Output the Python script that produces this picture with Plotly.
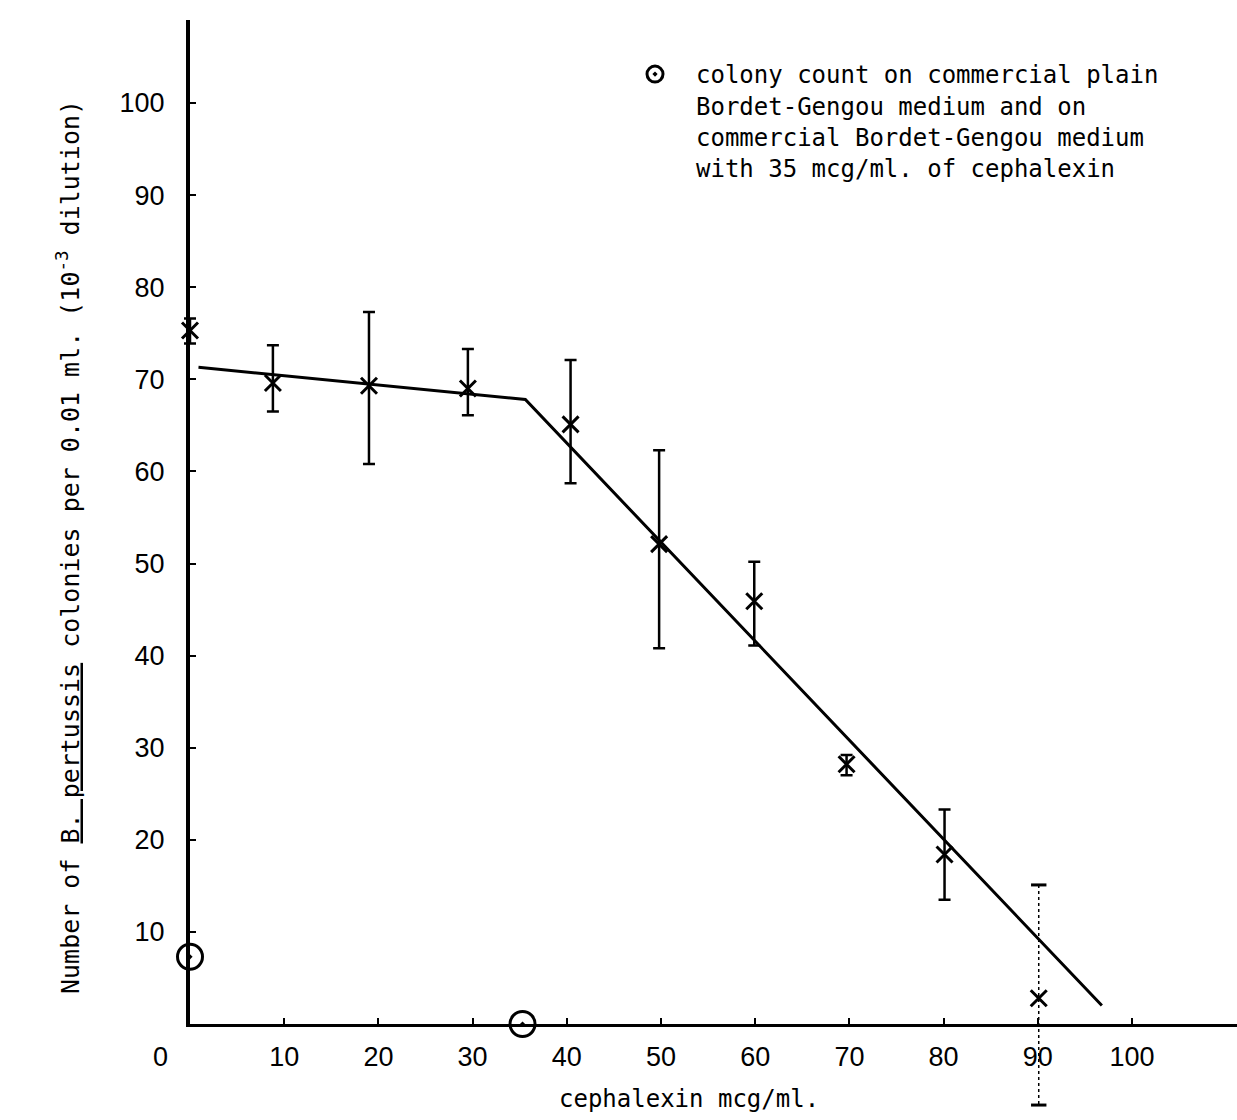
import plotly.graph_objects as go

# ---------------- data ----------------
# cephalexin concentration (mcg/ml) and mean colony counts with range
conc = [0, 8.8, 19.0, 29.5, 40.4, 49.8, 59.9, 69.7, 80.1, 90.1]
count = [75.3, 69.6, 69.3, 69.0, 65.1, 52.1, 45.9, 28.2, 18.4, 2.8]
upper = [76.6, 73.7, 77.3, 73.3, 72.1, 62.3, 50.2, 29.2, 23.3, 15.1]
lower = [73.9, 66.5, 60.8, 66.1, 58.7, 40.8, 41.1, 27.0, 13.5, -8.8]
dotted_bar = [False, False, False, False, False, False, False, False, False, True]

# fitted (hand-drawn) line
fit_x = [0.9, 35.6, 96.8]
fit_y = [71.3, 67.8, 2.0]

# colony counts on commercial media (open circles)
ref_x = [0, 35.3]
ref_y = [7.3, 0]
ref_name = ("colony count on commercial plain<br>Bordet-Gengou medium and on<br>"
            "commercial Bordet-Gengou medium<br>with 35 mcg/ml. of cephalexin")

x_ticks = [10, 20, 30, 40, 50, 60, 70, 80, 90, 100]
y_ticks = [10, 20, 30, 40, 50, 60, 70, 80, 90, 100]
origin_label = "0"

x_title = "cephalexin mcg/ml."
y_title = ("Number of <u>B. pertussis</u> colonies per 0.01 ml. "
           "(10<sup>-3</sup> dilution)")

# ---------------- layout geometry ----------------
W, H = 1237, 1120
OX, OY = 190, 1024          # pixel position of the origin
PPX, PPY = 9.42, 9.21       # pixels per data unit
Y_TOP_PX = 20

x_lo, x_hi = -OX / PPX, (W - OX) / PPX
y_lo, y_hi = -(H - OY) / PPY, OY / PPY

mono = "DejaVu Sans Mono"
sans = "Liberation Sans"

fig = go.Figure()

solid = [i for i, d in enumerate(dotted_bar) if not d]
dots = [i for i, d in enumerate(dotted_bar) if d]

# main points with solid range bars
fig.add_trace(go.Scatter(
    x=[conc[i] for i in solid], y=[count[i] for i in solid],
    mode="markers", showlegend=False, xaxis="x", yaxis="y", cliponaxis=False,
    marker=dict(symbol="x-thin-open", size=16, color="black",
                line=dict(width=3, color="black")),
    error_y=dict(type="data", symmetric=False,
                 array=[upper[i] - count[i] for i in solid],
                 arrayminus=[count[i] - lower[i] for i in solid],
                 color="black", thickness=2.5, width=6),
))

# point(s) with dotted range bar
for i in dots:
    fig.add_trace(go.Scatter(
        x=[conc[i], conc[i]], y=[upper[i], lower[i]],
        mode="lines+markers", showlegend=False, xaxis="x", yaxis="y",
        line=dict(color="black", width=1.5, dash="dot"),
        marker=dict(symbol="line-ew-open", size=11,
                    line=dict(width=3, color="black")),
    ))
    fig.add_trace(go.Scatter(
        x=[conc[i]], y=[count[i]], mode="markers", showlegend=False,
        xaxis="x", yaxis="y",
        marker=dict(symbol="x-thin-open", size=16, color="black",
                    line=dict(width=3, color="black")),
    ))

# fitted line (on visible axes)
fig.add_trace(go.Scatter(
    x=fit_x, y=fit_y, mode="lines", showlegend=False, xaxis="x2", yaxis="y2",
    line=dict(color="black", width=3),
))

# open circles (commercial media)
fig.add_trace(go.Scatter(
    x=ref_x, y=ref_y, mode="markers", name=ref_name, showlegend=True,
    xaxis="x", yaxis="y", cliponaxis=False,
    marker=dict(symbol="circle-open-dot", size=25, color="black",
                line=dict(width=3, color="black")),
))

tickfont = dict(family=sans, size=27, color="black")

fig.update_layout(
    width=W, height=H,
    margin=dict(l=0, r=0, t=0, b=0),
    paper_bgcolor="white", plot_bgcolor="rgba(0,0,0,0)",
    # full-figure data axes (invisible)
    xaxis=dict(domain=[0, 1], range=[x_lo, x_hi], visible=False, anchor="y"),
    yaxis=dict(domain=[0, 1], range=[y_lo, y_hi], visible=False, anchor="x"),
    # visible axes with the same scale
    xaxis2=dict(domain=[OX / W, 1], range=[0, x_hi], anchor="y2",
                showline=True, linecolor="black", linewidth=3,
                showgrid=False, zeroline=False,
                tickmode="array", tickvals=x_ticks,
                ticks="inside", ticklen=6, tickwidth=2, tickcolor="black",
                tickfont=tickfont, ticklabelstandoff=7),
    yaxis2=dict(domain=[(H - OY) / H, (H - Y_TOP_PX) / H],
                range=[0, (OY - Y_TOP_PX) / PPY], anchor="x2",
                showline=True, linecolor="black", linewidth=4,
                showgrid=False, zeroline=False,
                tickmode="array", tickvals=y_ticks,
                ticks="inside", ticklen=6, tickwidth=2, tickcolor="black",
                tickfont=tickfont, ticklabelstandoff=16),
    showlegend=True,
    legend=dict(x=614 / W, y=1 - 52 / H, xanchor="left", yanchor="top",
                bgcolor="rgba(0,0,0,0)", valign="top", itemwidth=72,
                font=dict(family=mono, size=24, color="black")),
    annotations=[
        dict(text=y_title, xref="paper", yref="paper", x=68 / W, y=(H - 547) / H,
             textangle=-90, showarrow=False, xanchor="center", yanchor="middle",
             font=dict(family=mono, size=25, color="black")),
        dict(text=x_title, xref="paper", yref="paper", x=689 / W, y=(H - 1099) / H,
             showarrow=False, xanchor="center", yanchor="middle",
             font=dict(family=mono, size=24, color="black")),
        dict(text=origin_label, xref="paper", yref="paper", x=160 / W, y=(H - 1057) / H,
             showarrow=False, xanchor="center", yanchor="middle", font=tickfont),
    ],
)

fig.write_html("out.html")
